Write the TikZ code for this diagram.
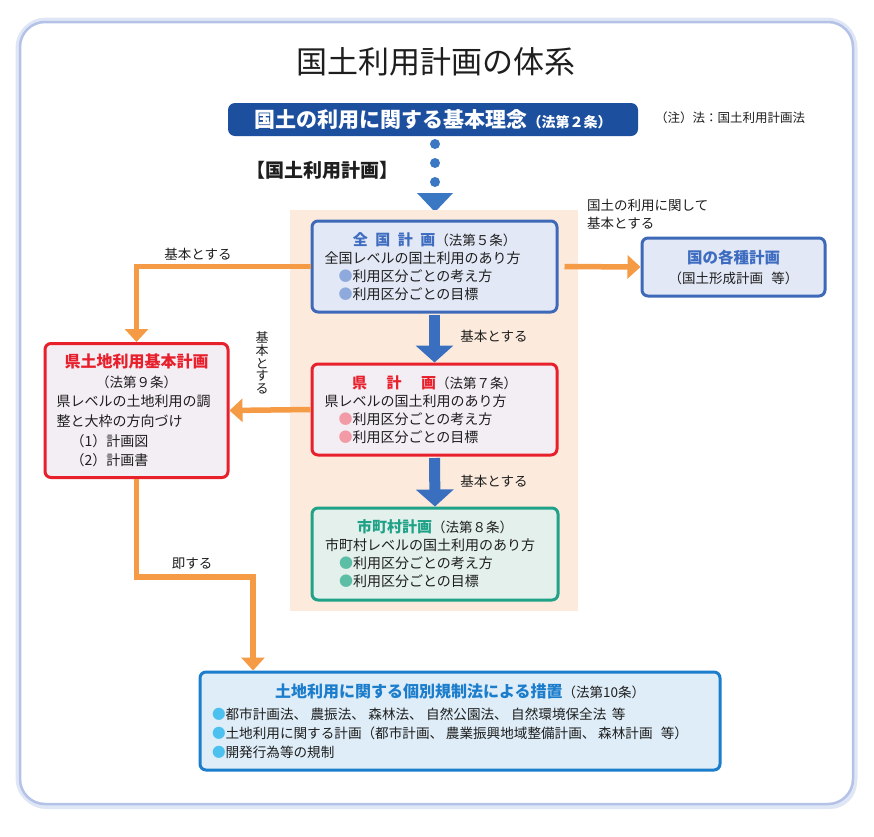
\documentclass[tikz,border=0pt]{standalone}
\usepackage{fontspec}
\setmainfont{Noto Sans CJK JP}
\usetikzlibrary{arrows.meta}
\definecolor{framec}{HTML}{B3C2E6}
\definecolor{frameglow}{HTML}{DFE6F5}
\definecolor{bannerblue}{HTML}{1D4F9F}
\definecolor{dotblue}{HTML}{3B78C4}
\definecolor{arrowblue}{HTML}{3A6FC0}
\definecolor{orangec}{HTML}{F59A45}
\definecolor{peach}{HTML}{FCEBDD}
\definecolor{ablue}{HTML}{3E69B8}
\definecolor{afill}{HTML}{E2E8F5}
\definecolor{atitle}{HTML}{3D6CC0}
\definecolor{abul}{HTML}{8EA9DB}
\definecolor{redc}{HTML}{E8202C}
\definecolor{bfill}{HTML}{F3EEF4}
\definecolor{bbul}{HTML}{F29AA5}
\definecolor{tealc}{HTML}{1FA287}
\definecolor{cfill}{HTML}{E3F0EC}
\definecolor{cbul}{HTML}{5CBFA5}
\definecolor{fblue}{HTML}{1B7DCC}
\definecolor{ffill}{HTML}{DEEDF7}
\definecolor{fbul}{HTML}{4CC0EE}
\definecolor{txt}{HTML}{1E1E1E}
\begin{document}
\begin{tikzpicture}[x=1pt,y=-1pt,
  planbox/.style={line width=3pt, rounded corners=6pt, inner sep=0pt, align=left, text=txt},
  oarrow/.style={draw=orangec, line width=5.5pt, -{Triangle[width=23pt,length=13pt]}},
  barrow/.style={draw=arrowblue, line width=11pt, -{Triangle[width=37pt,length=17pt]}},
  lbl/.style={text=txt, font=\fontsize{13.5}{18}\selectfont, inner sep=0pt},
  dotc/.style={fill=dotblue}
]
\useasboundingbox (0,0) rectangle (874,836);
% frame
\fill[frameglow, rounded corners=27pt] (19,22) rectangle (857,809);
\draw[draw=frameglow, line width=9pt, rounded corners=26pt] (20,22) rectangle (853,804);
\draw[fill=white, draw=framec, line width=2.5pt, rounded corners=25pt] (20,22) rectangle (853,804);
% title
\node[text=txt, font=\fontsize{31}{31}\selectfont, inner sep=0pt] (title) at (436,62) {国土利用計画の体系};
% banner
\node[fill=bannerblue, rounded corners=7pt, minimum width=410pt, minimum height=33pt, inner sep=0pt, text=white] (kihon) at (433,119.5)
  {{\bfseries\fontsize{21}{21}\selectfont 国土の利用に関する基本理念}{\bfseries\fontsize{14}{14}\selectfont （法第２条）}};
\node[text=txt, font=\fontsize{12.5}{12.5}\selectfont, inner sep=0pt] (note) at (730,118) {（注）法：国土利用計画法};
% dots and triangle
\fill[dotc] (435,144) circle (5);
\fill[dotc] (435,163) circle (5);
\fill[dotc] (435,182) circle (5);
\fill[dotc] (417,193) -- (453,193) -- (435,212) -- cycle;
\node[text=txt, font=\bfseries\fontsize{19}{19}\selectfont, inner sep=0pt] (kokudo) at (322,170) {【国土利用計画】};
% peach background
\fill[peach] (290,210) rectangle (578,611);
% boxes
\node[planbox, draw=ablue, fill=afill, minimum width=245pt, minimum height=91pt, text width=220pt,
  font=\fontsize{14}{18}\selectfont] (A) at (434.5,266.5)
  {\makebox[\hsize][c]{{\color{atitle}\bfseries\fontsize{15}{18}\selectfont 全\hspace{0.5em}国\hspace{0.5em}計\hspace{0.5em}画}{\fontsize{13.5}{18}\selectfont （法第５条）}}\\
   全国レベルの国土利用のあり方\\
   \hspace*{1em}{\color{abul}●}利用区分ごとの考え方\\
   \hspace*{1em}{\color{abul}●}利用区分ごとの目標};
\node[planbox, draw=redc, fill=bfill, minimum width=245pt, minimum height=91pt, text width=220pt,
  font=\fontsize{14}{18}\selectfont] (B) at (434.5,409.5)
  {\makebox[\hsize][c]{{\color{redc}\bfseries\fontsize{15}{18}\selectfont 県\hspace{1.3em}計\hspace{1.3em}画}{\fontsize{13.5}{18}\selectfont （法第７条）}}\\
   県レベルの国土利用のあり方\\
   \hspace*{1em}{\color{bbul}●}利用区分ごとの考え方\\
   \hspace*{1em}{\color{bbul}●}利用区分ごとの目標};
\node[planbox, draw=tealc, fill=cfill, minimum width=246pt, minimum height=92pt, text width=220pt,
  font=\fontsize{14}{18}\selectfont] (C) at (435,554)
  {\makebox[\hsize][c]{{\color{tealc}\bfseries\fontsize{15}{18}\selectfont 市町村計画}{\fontsize{13.5}{18}\selectfont （法第８条）}}\\
   市町村レベルの国土利用のあり方\\
   \hspace*{1em}{\color{cbul}●}利用区分ごとの考え方\\
   \hspace*{1em}{\color{cbul}●}利用区分ごとの目標};
\node[planbox, draw=redc, fill=bfill, minimum width=183pt, minimum height=134pt, text width=160pt,
  font=\fontsize{14}{19.6}\selectfont] (D) at (136.5,410.5)
  {\makebox[\hsize][c]{\color{redc}\bfseries\fontsize{16}{19.6}\selectfont 県土地利用基本計画}\\
   \makebox[\hsize][c]{\fontsize{13.5}{19.6}\selectfont （法第９条）}\\
   県レベルの土地利用の調\\
   整と大枠の方向づけ\\
   \hspace*{1em}（1）計画図\\
   \hspace*{1em}（2）計画書};
\node[planbox, draw=ablue, fill=afill, minimum width=183pt, minimum height=58pt, align=center,
  font=\fontsize{13.5}{20}\selectfont] (E) at (733.5,267)
  {{\color{atitle}\bfseries\fontsize{15.5}{20}\selectfont 国の各種計画}\\
   （国土形成計画\hspace{0.6em}等）};
\node[planbox, draw=fblue, fill=ffill, minimum width=520pt, minimum height=98pt, text width=496pt,
  font=\fontsize{13.6}{19}\selectfont] (F) at (460,721)
  {\makebox[\hsize][c]{{\color{fblue}\bfseries\fontsize{16}{19}\selectfont 土地利用に関する個別規制法による措置}{\fontsize{13.5}{19}\selectfont （法第10条）}}\\[3pt]
   {\color{fbul}●}都市計画法、\hspace{0.25em}農振法、\hspace{0.25em}森林法、\hspace{0.25em}自然公園法、\hspace{0.25em}自然環境保全法\hspace{0.4em}等\\
   {\color{fbul}●}土地利用に関する計画（都市計画、\hspace{0.2em}農業振興地域整備計画、\hspace{0.2em}森林計画\hspace{0.6em}等）\\
   {\color{fbul}●}開発行為等の規制};
% connectors
\draw[oarrow] (A.west) -| (D.north);
\draw[oarrow] ([xshift=6pt]A.east) -- (E.west);
\draw[oarrow] (B.west) -- (D.east);
\coordinate (kink) at (253,577);
\draw[oarrow] (D.south) |- (kink) -- (kink |- F.north);
\draw[barrow] ([yshift=-1.5pt]A.south) -- (B.north);
\draw[barrow] ([yshift=-1.5pt]B.south) -- (C.north);
% labels
\node[lbl] (l1) at (198,254) {基本とする};
\node[lbl, align=left, anchor=west] (l2) at (587,214.5) {国土の利用に関して\\基本とする};
\node[lbl, align=center, font=\fontsize{13}{12.8}\selectfont] (l3) at (262,363) {基\\本\\と\\す\\る};
\node[lbl] (l4) at (494,336) {基本とする};
\node[lbl] (l5) at (494,481) {基本とする};
\node[lbl] (l6) at (192,564) {即する};
\end{tikzpicture}
\end{document}
